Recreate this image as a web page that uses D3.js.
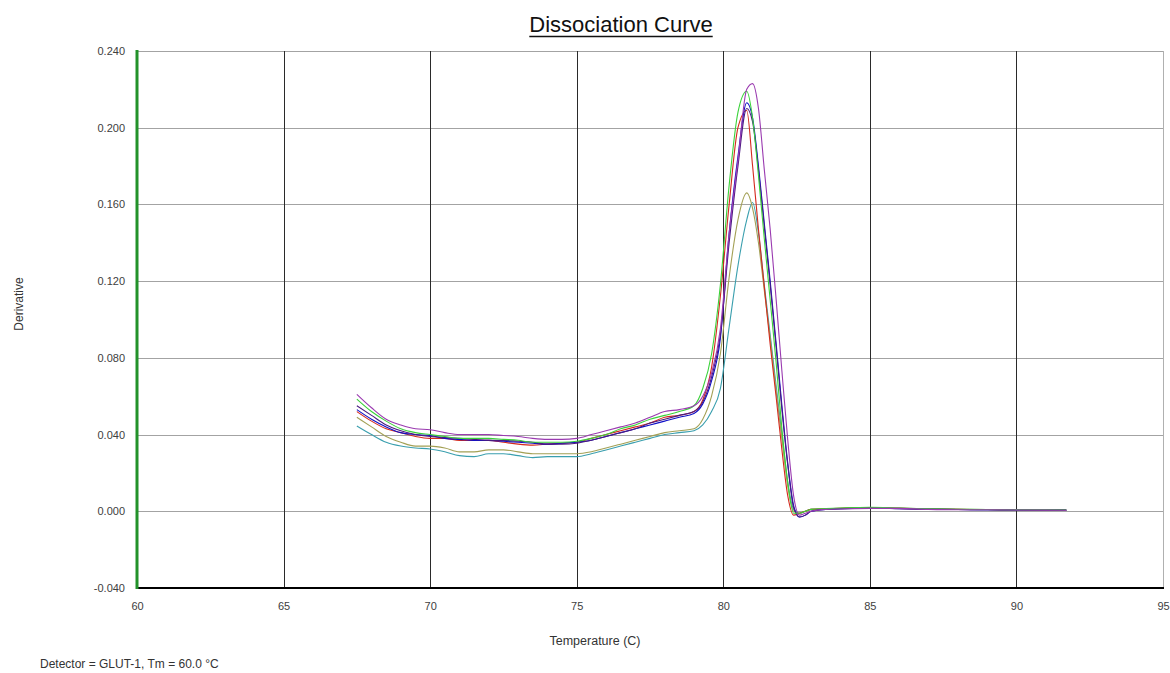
<!DOCTYPE html>
<html>
<head>
<meta charset="utf-8">
<script src="https://cdn.jsdelivr.net/npm/d3@7"></script>
<style>
  html, body { margin: 0; padding: 0; background: #fff; }
  svg { display: block; font-family: "Liberation Sans", Arial, sans-serif; }
</style>
</head>
<body>
<svg id="chart" width="1170" height="673"></svg>
<script>
// ---- data ----
const temps = [67.5, 68.0, 68.5, 69.0, 69.5, 70.0, 70.5, 71.0, 71.5, 72.0, 72.5, 73.0, 73.5, 74.0, 74.5, 75.0,
  75.5, 76.0, 76.5, 77.0, 77.5, 78.0, 78.5, 79.0, 79.3, 79.6, 79.9, 80.2, 80.5, 80.8, 81.0, 81.2, 81.4, 81.6,
  81.8, 82.0, 82.2, 82.4, 82.6, 82.8, 83.0, 83.5, 84.0, 85.0, 86.0, 87.0, 88.0, 89.0, 90.0, 91.0, 91.7];

const tealVals = [0.0445, 0.040, 0.036, 0.034, 0.033, 0.0325, 0.031, 0.029, 0.0285, 0.030, 0.030, 0.029, 0.028, 0.0285, 0.0285, 0.0285,
  0.030, 0.032, 0.034, 0.036, 0.038, 0.040, 0.041, 0.042, 0.045, 0.052, 0.064, 0.096, 0.128, 0.152, 0.161, 0.145, 0.118, 0.092,
  0.066, 0.040, 0.015, 0.001, -0.001, 0.000, 0.001, 0.0012, 0.0014, 0.0018, 0.0016, 0.0012, 0.001, 0.0008, 0.0008, 0.0007, 0.0006];

const oliveVals = [0.049, 0.044, 0.039, 0.036, 0.034, 0.034, 0.033, 0.031, 0.031, 0.032, 0.032, 0.031, 0.030, 0.030, 0.030, 0.030,
  0.031, 0.033, 0.035, 0.037, 0.039, 0.041, 0.042, 0.043, 0.048, 0.060, 0.082, 0.122, 0.152, 0.166, 0.158, 0.140, 0.115, 0.090,
  0.063, 0.038, 0.013, 0.000, -0.001, 0.000, 0.001, 0.0013, 0.0015, 0.0019, 0.0017, 0.0013, 0.001, 0.0009, 0.0008, 0.0007, 0.0006];

const redVals = [0.052, 0.047, 0.043, 0.041, 0.039, 0.038, 0.038, 0.037, 0.037, 0.037, 0.036, 0.035, 0.0345, 0.035, 0.0355, 0.036,
  0.038, 0.040, 0.042, 0.044, 0.046, 0.049, 0.050, 0.052, 0.058, 0.075, 0.112, 0.160, 0.200, 0.209, 0.180, 0.147, 0.117, 0.087,
  0.060, 0.032, 0.008, -0.002, -0.001, 0.000, 0.001, 0.0013, 0.0016, 0.0020, 0.0015, 0.0012, 0.001, 0.0009, 0.0008, 0.0007, 0.0006];

const blueVals = [0.053, 0.048, 0.044, 0.041, 0.040, 0.0395, 0.038, 0.0375, 0.037, 0.037, 0.0365, 0.036, 0.0355, 0.035, 0.0355, 0.036,
  0.037, 0.039, 0.041, 0.043, 0.045, 0.047, 0.049, 0.051, 0.056, 0.068, 0.090, 0.145, 0.185, 0.213, 0.205, 0.180, 0.150, 0.120,
  0.088, 0.055, 0.025, 0.003, -0.003, -0.002, 0.000, 0.001, 0.0014, 0.0016, 0.0014, 0.0011, 0.0009, 0.0008, 0.0007, 0.0007, 0.0006];

const indigoVals = [0.055, 0.050, 0.045, 0.042, 0.040, 0.039, 0.0385, 0.038, 0.0375, 0.037, 0.037, 0.0365, 0.036, 0.035, 0.035, 0.0355,
  0.037, 0.039, 0.041, 0.043, 0.046, 0.048, 0.050, 0.052, 0.057, 0.070, 0.092, 0.140, 0.180, 0.210, 0.203, 0.178, 0.148, 0.118,
  0.086, 0.053, 0.024, 0.002, -0.003, -0.002, 0.000, 0.001, 0.0013, 0.0017, 0.0014, 0.0011, 0.0009, 0.0008, 0.0007, 0.0006, 0.0005];

const greenVals = [0.0585, 0.052, 0.047, 0.043, 0.041, 0.040, 0.039, 0.038, 0.038, 0.038, 0.0375, 0.037, 0.036, 0.036, 0.036, 0.0365,
  0.038, 0.040, 0.043, 0.045, 0.048, 0.050, 0.052, 0.055, 0.064, 0.082, 0.118, 0.170, 0.208, 0.219, 0.205, 0.175, 0.142, 0.110,
  0.078, 0.043, 0.015, -0.001, -0.001, 0.000, 0.001, 0.0014, 0.0017, 0.0021, 0.0017, 0.0013, 0.0011, 0.0009, 0.0008, 0.0008, 0.0007];

const violetVals = [0.061, 0.054, 0.048, 0.045, 0.043, 0.0425, 0.041, 0.040, 0.040, 0.040, 0.0395, 0.039, 0.038, 0.0375, 0.0375, 0.038,
  0.040, 0.042, 0.044, 0.046, 0.049, 0.052, 0.053, 0.055, 0.060, 0.072, 0.095, 0.145, 0.183, 0.220, 0.223, 0.210, 0.178, 0.147,
  0.111, 0.073, 0.037, 0.008, -0.002, -0.001, 0.000, 0.001, 0.0012, 0.0015, 0.0015, 0.001, 0.0008, 0.0008, 0.0007, 0.0006, 0.0005];

const seriesNames = ["teal", "olive", "red", "blue", "indigo", "green", "violet"];
const seriesValues = [tealVals, oliveVals, redVals, blueVals, indigoVals, greenVals, violetVals];
const seriesColors = ["#3a9fae", "#a3a055", "#d42a1e", "#1010c8", "#4a1a80", "#3ad23a", "#9a3ab0"];

const xTicks = [60, 65, 70, 75, 80, 85, 90, 95];
const yTicks = [-0.040, 0.000, 0.040, 0.080, 0.120, 0.160, 0.200, 0.240];

const titleText = "Dissociation Curve";
const xLabel = "Temperature (C)";
const yLabel = "Derivative";
const footText = "Detector = GLUT-1, Tm = 60.0 °C";

// ---- layout ----
(function draw() {
const svg = d3.select("#chart");
const pLeft = 137, pRight = 1163, pTop = 51, pBottom = 588;

const x = d3.scaleLinear().domain([60, 95]).range([pLeft, pRight]);
const y = d3.scaleLinear().domain([-0.040, 0.240]).range([pBottom, pTop]);

// horizontal grid lines
svg.append("g").selectAll("line").data(yTicks.filter(d => d > -0.04)).join("line")
  .attr("x1", pLeft).attr("x2", pRight)
  .attr("y1", d => Math.round(y(d)) + 0.5).attr("y2", d => Math.round(y(d)) + 0.5)
  .attr("stroke", "#a3a3a3").attr("stroke-width", 1);

// vertical grid lines
svg.append("g").selectAll("line").data(xTicks.filter(d => d > 60 && d < 95)).join("line")
  .attr("x1", d => Math.round(x(d)) + 0.5).attr("x2", d => Math.round(x(d)) + 0.5)
  .attr("y1", pTop).attr("y2", pBottom)
  .attr("stroke", "#2a2a2a").attr("stroke-width", 1);

// right border
svg.append("line")
  .attr("x1", pRight + 0.5).attr("x2", pRight + 0.5).attr("y1", pTop).attr("y2", pBottom)
  .attr("stroke", "#b0b0b0").attr("stroke-width", 1);

// axes with d3 axis generators (labels only; lines drawn separately)
const fmt3 = d => d3.format(".3f")(d).replace("\u2212", "-");
const yAxis = d3.axisLeft(y).tickValues(yTicks).tickFormat(fmt3).tickSize(0).tickPadding(12);
const gy = svg.append("g").attr("transform", `translate(${pLeft},0)`).call(yAxis);
gy.select(".domain").remove();
gy.selectAll("text").attr("font-size", 11).attr("fill", "#404040")
  .attr("font-family", "Liberation Sans, Arial, sans-serif");

const xAxis = d3.axisBottom(x).tickValues(xTicks).tickFormat(d3.format("d")).tickSize(0).tickPadding(14);
const gx = svg.append("g").attr("transform", `translate(0,${pBottom})`).call(xAxis);
gx.select(".domain").remove();
gx.selectAll("text").attr("font-size", 11).attr("fill", "#404040")
  .attr("font-family", "Liberation Sans, Arial, sans-serif");

// series lines
const line = d3.line().x((d, i) => x(temps[i])).y(d => y(d)).curve(d3.curveMonotoneX);
svg.append("g").selectAll("path").data(seriesValues).join("path")
  .attr("d", d => line(d))
  .attr("fill", "none")
  .attr("stroke", (d, i) => seriesColors[i])
  .attr("stroke-width", 1.1);

// bottom axis line (thick black)
svg.append("line")
  .attr("x1", pLeft).attr("x2", pRight + 1).attr("y1", pBottom).attr("y2", pBottom)
  .attr("stroke", "#000").attr("stroke-width", 2);

// left green axis
svg.append("line")
  .attr("x1", pLeft).attr("x2", pLeft).attr("y1", pTop - 1).attr("y2", pBottom + 1)
  .attr("stroke", "#23922a").attr("stroke-width", 3);

// title
const title = svg.append("text")
  .attr("x", 621).attr("y", 32)
  .attr("text-anchor", "middle")
  .attr("font-size", 22).attr("fill", "#111")
  .attr("font-family", "Liberation Sans, Arial, sans-serif")
  .text(titleText);
const tb = title.node().getBBox();
svg.append("line")
  .attr("x1", tb.x).attr("x2", tb.x + tb.width)
  .attr("y1", 36.5).attr("y2", 36.5)
  .attr("stroke", "#111").attr("stroke-width", 1.3);

// axis titles
svg.append("text")
  .attr("x", 595).attr("y", 645)
  .attr("text-anchor", "middle")
  .attr("font-size", 12.5).attr("fill", "#333")
  .text(xLabel);

svg.append("text")
  .attr("transform", "translate(23,304) rotate(-90)")
  .attr("text-anchor", "middle")
  .attr("font-size", 12).attr("fill", "#333")
  .text(yLabel);

svg.append("text")
  .attr("x", 40).attr("y", 668)
  .attr("font-size", 12).attr("fill", "#333")
  .text(footText);
})();
</script>
</body>
</html>
